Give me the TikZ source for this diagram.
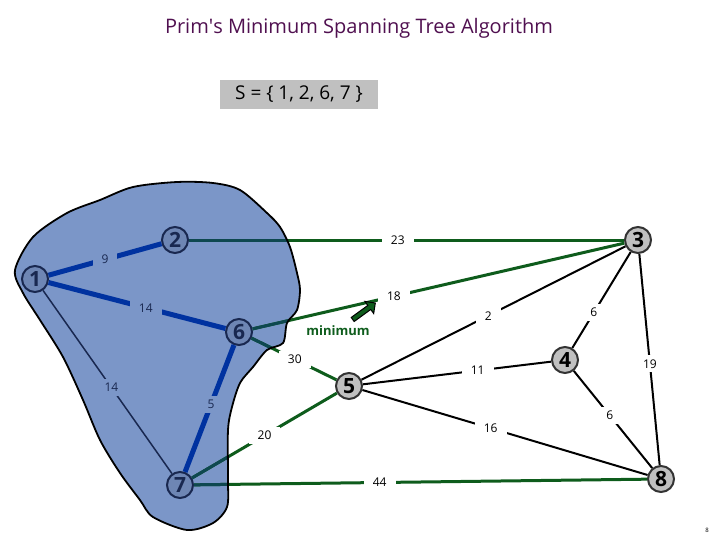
\documentclass[tikz,border=0pt]{standalone}
\usepackage{fontspec}
\setmainfont{Open Sans}
\usetikzlibrary{shapes.arrows}
\definecolor{blobc}{RGB}{123,150,200}
\definecolor{treeblue}{RGB}{0,50,160}
\definecolor{cutgreen}{RGB}{14,92,28}
\definecolor{cutteal}{RGB}{14,72,80}
\definecolor{nodegray}{RGB}{192,192,192}
\definecolor{nodein}{RGB}{110,134,180}
\definecolor{innav}{RGB}{25,40,80}
\definecolor{titlec}{RGB}{80,16,80}
\tikzset{
  vout/.style={circle, draw=black!80, line width=2pt, fill=nodegray, minimum size=26pt, inner sep=0pt, font=\bfseries\fontsize{21}{21}\selectfont},
  vin/.style={vout, fill=nodein, draw=innav, text=innav},
  lab/.style={fill=white, inner xsep=9pt, inner ysep=4pt, font=\fontsize{12}{12}\selectfont},
  labin/.style={lab, fill=blobc, text=innav},
  tree/.style={treeblue, line width=5pt},
  cut/.style={cutgreen, line width=3pt},
  cutin/.style={cutteal, line width=3pt},
  plain/.style={black, line width=2pt},
  inner/.style={innav, line width=1.5pt}
}
\def\blobpath{plot[smooth cycle, tension=0.5] coordinates {(15,270) (33,237) (67,213) (100,200) (133,187) (177,182) (213,183) (240,190) (267,213) (280,227) (290,247) (297,273) (300,290) (297,310) (287,323) (283,343) (267,350) (253,367) (240,383) (232,407) (228,430) (228,480) (227,507) (213,523) (187,530) (153,517) (140,500) (120,473) (100,440) (83,400) (63,357) (40,320) (23,293)}}
\begin{document}
\begin{tikzpicture}[x=1pt, y=-1pt]
\useasboundingbox (0,0) rectangle (720,540);
% title and set
\node[text=titlec, font=\fontsize{20}{20}\selectfont] (title) at (359,28) {Prim\textquotesingle s Minimum Spanning Tree Algorithm};
\node[fill=nodegray, minimum width=158pt, minimum height=29pt, font=\fontsize{19}{19}\selectfont] (S) at (299,94.5) {S = \{ 1, 2, 6, 7 \}};
% blob
\fill[blobc] \blobpath;
% nodes
\node[vin] (n1) at (35,279) {1};
\node[vin] (n2) at (175,240) {2};
\node[vout] (n3) at (638,240) {3};
\node[vout] (n4) at (565,360) {4};
\node[vout] (n5) at (349,386) {5};
\node[vin] (n6) at (239,332) {6};
\node[vin] (n7) at (180,485) {7};
\node[vout] (n8) at (661,479) {8};
% cut edges (green)
\draw[cut] (n2) -- (n3);
\draw[cut] (n6) -- (n3);
\draw[cut] (n6) -- (n5);
\draw[cut] (n7) -- (n5);
\draw[cut] (n7) -- (n8);
\begin{scope}
\clip \blobpath;
\draw[cutin] (n2) -- (n3);
\draw[cutin] (n6) -- (n3);
\draw[cutin] (n6) -- (n5);
\draw[cutin] (n7) -- (n5);
\draw[cutin] (n7) -- (n8);
\end{scope}
\draw[black, line width=1.8pt] \blobpath;
% labels on cut edges
\path (n2) -- node[lab, pos=0.48] {23} (n3);
\path (n6) -- node[lab, pos=0.38] {18} (n3);
\path (n6) -- node[lab, pos=0.51] {30} (n5);
\path (n7) -- node[lab, pos=0.5] {20} (n5);
\path (n7) -- node[lab, pos=0.41] {44} (n8);
% other edges
\draw[plain] (n5) -- node[lab, pos=0.48] {2} (n3);
\draw[plain] (n3) -- node[lab, pos=0.63] {6} (n4);
\draw[plain] (n3) -- node[lab, pos=0.52] {19} (n8);
\draw[plain] (n5) -- node[lab, pos=0.61] {11} (n4);
\draw[plain] (n5) -- node[lab, pos=0.45] {16} (n8);
\draw[plain] (n4) -- node[lab, pos=0.46] {6} (n8);
% tree edges
\draw[tree] (n1) -- node[labin, pos=0.5] {9} (n2);
\draw[tree] (n1) -- node[labin, pos=0.55] {14} (n6);
\draw[tree] (n6) -- node[labin, pos=0.47] {5} (n7);
\draw[inner] (n1) -- node[labin, pos=0.53] {14} (n7);
% minimum
\node[font=\bfseries\fontsize{13}{13}\selectfont, text=cutgreen] (min) at (338,331) {minimum};
\node[single arrow, draw=black, line width=1pt, fill=cutgreen, rotate=36, minimum height=28pt, minimum width=15pt, single arrow head extend=3pt, inner sep=1pt] (arr) at (363,312) {};
% page number
\node[font=\fontsize{6}{6}\selectfont] (pg) at (707,530) {8};
\end{tikzpicture}
\end{document}
